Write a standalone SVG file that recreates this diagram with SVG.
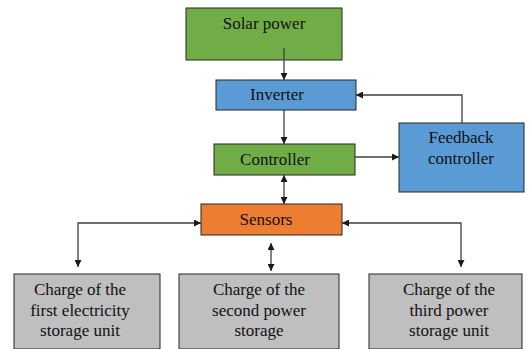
<svg xmlns="http://www.w3.org/2000/svg" width="531" height="349" viewBox="0 0 531 349">
<style>
.box{stroke:#262626;stroke-width:1}
.g{fill:#70AD47}.b{fill:#5B9BD5}.o{fill:#ED7D31}.gr{fill:#BFBFBF}
.c{fill:none;stroke:#404040;stroke-width:1.3}
</style>
<defs>
<marker id="ah" viewBox="0 0 10 10" refX="10" refY="5" markerWidth="7" markerHeight="7" markerUnits="userSpaceOnUse" orient="auto-start-reverse">
<path d="M0,0 L10,5 L0,10 Z" fill="#1a1a1a"/>
</marker>
</defs>
<rect width="531" height="349" fill="#fff"/>
<g id="solar"><rect class="box g" x="186" y="8" width="156" height="52"/><text font-family="Liberation Serif" font-size="17" fill="#111" text-anchor="middle" x="264" y="29">Solar power</text></g>
<g id="inverter"><rect class="box b" x="216" y="80" width="140" height="30"/><text font-family="Liberation Serif" font-size="17" fill="#111" text-anchor="middle" x="277" y="100">Inverter</text></g>
<g id="controller"><rect class="box g" x="214" y="144" width="141" height="31"/><text font-family="Liberation Serif" font-size="17" fill="#111" text-anchor="middle" x="275" y="165">Controller</text></g>
<g id="feedback"><rect class="box b" x="399" y="123" width="125" height="69"/><text font-family="Liberation Serif" font-size="17" fill="#111" text-anchor="middle" x="461" y="143">Feedback</text><text font-family="Liberation Serif" font-size="17" fill="#111" text-anchor="middle" x="461" y="164">controller</text></g>
<g id="sensors"><rect class="box o" x="201" y="204" width="141" height="31"/><text font-family="Liberation Serif" font-size="17" fill="#111" text-anchor="middle" x="266" y="225">Sensors</text></g>
<g id="store1"><rect class="box gr" x="14" y="274" width="146" height="75"/><text font-family="Liberation Serif" font-size="17" fill="#111" text-anchor="middle" x="80" y="295">Charge of the</text><text font-family="Liberation Serif" font-size="17" fill="#111" text-anchor="middle" x="80" y="316">first electricity</text><text font-family="Liberation Serif" font-size="17" fill="#111" text-anchor="middle" x="80" y="336">storage unit</text></g>
<g id="store2"><rect class="box gr" x="179" y="274" width="160" height="75"/><text font-family="Liberation Serif" font-size="17" fill="#111" text-anchor="middle" x="259" y="295">Charge of the</text><text font-family="Liberation Serif" font-size="17" fill="#111" text-anchor="middle" x="259" y="316">second power</text><text font-family="Liberation Serif" font-size="17" fill="#111" text-anchor="middle" x="259" y="336">storage</text></g>
<g id="store3"><rect class="box gr" x="369" y="274" width="153" height="75"/><text font-family="Liberation Serif" font-size="17" fill="#111" text-anchor="middle" x="449" y="295">Charge of the</text><text font-family="Liberation Serif" font-size="17" fill="#111" text-anchor="middle" x="449" y="316">third power</text><text font-family="Liberation Serif" font-size="17" fill="#111" text-anchor="middle" x="449" y="336">storage unit</text></g>
<g id="connectors">
<path class="c" d="M284,48 V80" marker-end="url(#ah)"/>
<path class="c" d="M284,110 V144" marker-end="url(#ah)"/>
<path class="c" d="M355,157 H399" marker-end="url(#ah)"/>
<path class="c" d="M462,123 V95 H356" marker-end="url(#ah)"/>
<path class="c" d="M284,175 V204" marker-start="url(#ah)" marker-end="url(#ah)"/>
<path class="c" d="M78,267 V223 H201" marker-start="url(#ah)" marker-end="url(#ah)"/>
<path class="c" d="M461,267 V223 H342" marker-start="url(#ah)" marker-end="url(#ah)"/>
<path class="c" d="M271,243 V271" marker-start="url(#ah)" marker-end="url(#ah)"/>
</g>
</svg>
